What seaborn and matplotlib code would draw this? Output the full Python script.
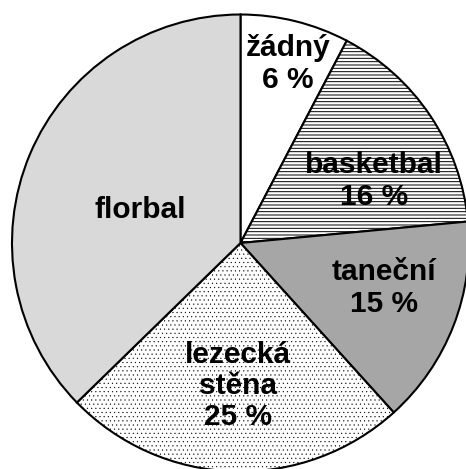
import matplotlib
matplotlib.use("Agg")
import matplotlib.pyplot as plt
import seaborn as sns

# Data (slice shares as drawn; labels as printed)
categories = ["žádný", "basketbal", "taneční", "lezecká\nstěna", "florbal"]
shares = [7.7, 15.8, 14.8, 24.4, 37.3]
pct_labels = ["6 %", "16 %", "15 %", "25 %", ""]

# Styles
colors = ["#ffffff", "#ffffff", "#a6a6a6", "#ffffff", "#d9d9d9"]
hatches = [None, "-----", None, "....", None]
hatch_lw = [None, 0.7, None, 0.3, None]
hatch_col = [None, "black", None, "#808080", None]
label_pos = [(0.208, 0.783), (0.584, 0.271), (0.628, -0.197),
             (-0.011, -0.626), (-0.440, 0.144)]

sns.set_style("white")
plt.rcParams["font.family"] = ["Liberation Sans", "DejaVu Sans"]
plt.rcParams["hatch.linewidth"] = 0.7
plt.rcParams["hatch.color"] = "black"

fig = plt.figure(figsize=(4.66, 4.69), dpi=100)
ax = fig.add_axes([0, 0, 1, 1])
ax.set_axis_off()

wedges, _ = ax.pie(shares, colors=colors, startangle=90, counterclock=False,
                   radius=1.0,
                   wedgeprops=dict(edgecolor="black", linewidth=1.5))
for w, h, lw, hc in zip(wedges, hatches, hatch_lw, hatch_col):
    if h:
        w.set_hatch(h)
        try:
            w.set_hatch_linewidth(lw)
        except Exception:
            w._hatch_linewidth = lw
        try:
            w.set_hatchcolor(hc)
        except Exception:
            pass

for name, pct, (x, y) in zip(categories, pct_labels, label_pos):
    txt = name if not pct else f"{name}\n{pct}"
    ax.text(x, y, txt, ha="center", va="center", fontsize=21.5,
            fontweight="bold", color="black", linespacing=1.15,
            multialignment="center")

ax.set_xlim(-1.0525, 0.9869)
ax.set_ylim(-0.9891, 1.0635)
ax.set_aspect("auto")

fig.savefig("out.png", dpi=100)
